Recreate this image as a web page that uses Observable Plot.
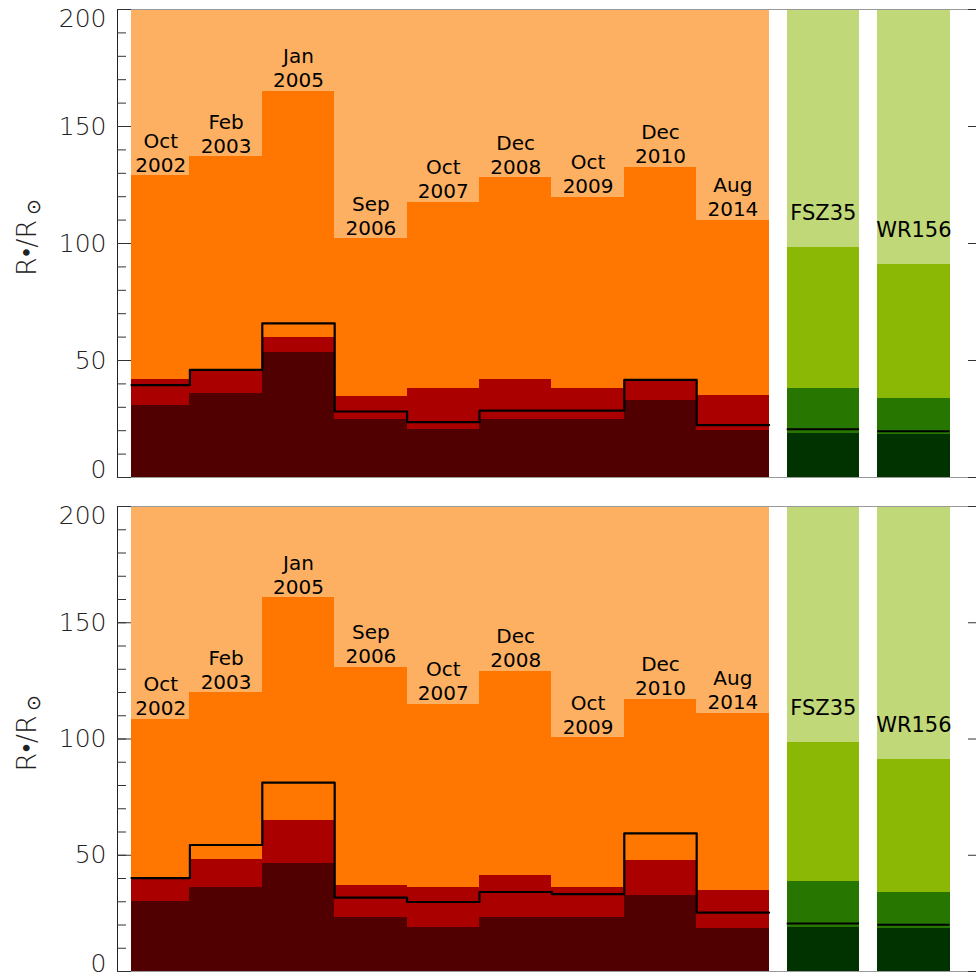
<!DOCTYPE html>
<html><head><meta charset="utf-8">
<script src="https://cdn.jsdelivr.net/npm/d3@7"></script>
<script src="https://cdn.jsdelivr.net/npm/@observablehq/plot@0.6"></script>
<style>
body{margin:0;background:#fff;}
#chart svg{display:block;}
</style></head><body><div id="chart"></div>
<script>
// ---- data ----
const months = ["Oct","Feb","Jan","Sep","Oct","Dec","Oct","Dec","Aug"];
const years  = ["2002","2003","2005","2006","2007","2008","2009","2010","2014"];

// top panel
const orangeTop1 = [129, 137, 165, 102, 117.6, 128.2, 119.8, 132.6, 110];
const redTop1    = [41.9, 45.3, 59.8, 34.6, 38.0, 41.9, 38.0, 41.2, 35.0];
const maroonTop1 = [30.8, 35.9, 53.5, 24.8, 20.5, 24.8, 24.8, 33.0, 20.1];
const stepLine1  = [39.5, 46.0, 65.9, 28.2, 23.7, 28.6, 28.6, 41.7, 22.4];

// bottom panel
const orangeTop2 = [108.4, 119.8, 160.7, 130.8, 115.0, 129.1, 100.6, 117.1, 111.1];
const redTop2    = [39.4, 48.3, 65.0, 37.2, 36.3, 41.5, 36.3, 47.9, 35.0];
const maroonTop2 = [29.9, 36.3, 46.6, 23.1, 18.8, 23.1, 23.1, 32.9, 18.4];
const stepLine2  = [40.2, 54.4, 81.2, 31.8, 29.9, 34.2, 33.3, 59.4, 25.3];

// reference stars
const stars = ["FSZ35", "WR156"];
const midTop1     = [98.3, 91.0];
const darkTop1    = [38.0, 33.8];
const darkestTop1 = [18.9, 18.4];
const starLine1   = [20.6, 19.8];
const midTop2     = [98.3, 91.0];
const darkTop2    = [38.5, 33.8];
const darkestTop2 = [18.8, 18.4];
const starLine2   = [20.6, 20.1];

const majorTicks = [0, 50, 100, 150, 200];
const minorTicks = d3.range(0, 201, 10);
const yTitleMain = "R•/R";
const yTitleSub = "⊙";

// ---- styling ----
const C = {bg:"#FDB062", orange:"#FF7700", red:"#AA0000", maroon:"#500000",
           gLight:"#C0D877", gMid:"#8AB805", gDark:"#267600", gDarkest:"#003300"};
const yMax = 200, xMax = 11.865, firstInset = 0.193, starStart = 9.25, starStep = 1.25;
const FONT = "DejaVu Sans";

function panel(d, height, marginBottom) {
  const cols = months.map((m, i) => ({
    x1: i === 0 ? firstInset : i, x2: i + 1,
    orange: d.orange[i], red: d.red[i], maroon: d.maroon[i], line: d.line[i],
    label: m + "\n" + years[i]
  }));
  const sc = stars.map((s, j) => ({
    x1: starStart + j * starStep, x2: starStart + j * starStep + 1,
    mid: d.mid[j], dark: d.dark[j], darkest: d.darkest[j], line: d.sline[j], label: s
  }));
  const stepPts = cols.flatMap(c => [{x: c.x1, y: c.line}, {x: c.x2, y: c.line}]);
  const rect = (data, top, fill) => Plot.rect(data, {x1: "x1", x2: "x2", y1: 0, y2: top, fill, shapeRendering: "crispEdges"});
  const svg = Plot.plot({
    width: 976, height, marginTop: 9, marginBottom, marginLeft: 117, marginRight: 0,
    x: {domain: [0, xMax], axis: null},
    y: {domain: [0, yMax], axis: null},
    style: {fontFamily: FONT, background: "white", overflow: "visible"},
    marks: [
      rect(cols, () => yMax, C.bg),
      rect(cols, "orange", C.orange),
      rect(cols, "red", C.red),
      rect(cols, "maroon", C.maroon),
      Plot.line(stepPts, {x: "x", y: "y", stroke: "black", strokeWidth: 2.2}),
      rect(sc, () => yMax, C.gLight),
      rect(sc, "mid", C.gMid),
      rect(sc, "dark", C.gDark),
      rect(sc, "darkest", C.gDarkest),
      Plot.ruleY(sc, {x1: "x1", x2: "x2", y: "line", stroke: "black", strokeWidth: 2}),
      Plot.text(cols, {x: c => (c.x1 + c.x2) / 2, y: "orange", text: "label",
        lineAnchor: "bottom", lineHeight: 1.2, fontSize: 20, dy: -4, fill: "black"}),
      Plot.text(sc, {x: c => (c.x1 + c.x2) / 2, y: "mid", text: "label",
        lineAnchor: "bottom", fontSize: 21, dy: -27.5, fill: "black"}),
      Plot.frame({stroke: "#999", shapeRendering: "crispEdges"}),
      Plot.ruleX([0], {stroke: "#222", shapeRendering: "crispEdges"}),
      Plot.axisY({ticks: minorTicks, tickSize: -9, tickFormat: () => "", label: null, stroke: "#333"}),
      Plot.axisY({ticks: majorTicks, tickSize: -14, tickFormat: () => "", label: null, stroke: "#333"}),
      Plot.axisY({anchor: "right", ticks: majorTicks, tickSize: -9, tickFormat: () => "", label: null, stroke: "#333"}),
      Plot.axisY({ticks: [50, 100, 150], tickSize: 0, tickPadding: 11, label: null,
        fontSize: 25, fontWeight: 300, fill: "#222"}),
      Plot.axisY({ticks: [200], tickSize: 0, tickPadding: 11, label: null, lineAnchor: "top",
        fontSize: 25, fontWeight: 300, fill: "#222"}),
      Plot.axisY({ticks: [0], tickSize: 0, tickPadding: 11, label: null, lineAnchor: "bottom",
        fontSize: 25, fontWeight: 300, fill: "#222"}),
      Plot.text([yTitleMain], {frameAnchor: "left", textAnchor: "middle", dx: -90, dy: -6,
        rotate: -90, fontSize: 27, fontWeight: 300, fill: "#222", className: "ytitle"})
    ]
  });
  // add the small, lowered solar symbol to the axis title
  d3.select(svg).selectAll(".ytitle text").each(function() {
    const t = d3.select(this);
    t.append("tspan").attr("dx", "0.25em").attr("dy", "0.22em").attr("font-size", "0.7em").text(yTitleSub);
  });
  return svg;
}

const root = document.getElementById("chart");
root.appendChild(panel({orange: orangeTop1, red: redTop1, maroon: maroonTop1, line: stepLine1,
  mid: midTop1, dark: darkTop1, darkest: darkestTop1, sline: starLine1}, 497, 20));
root.appendChild(panel({orange: orangeTop2, red: redTop2, maroon: maroonTop2, line: stepLine2,
  mid: midTop2, dark: darkTop2, darkest: darkestTop2, sline: starLine2}, 480, 6));
</script></body></html>
